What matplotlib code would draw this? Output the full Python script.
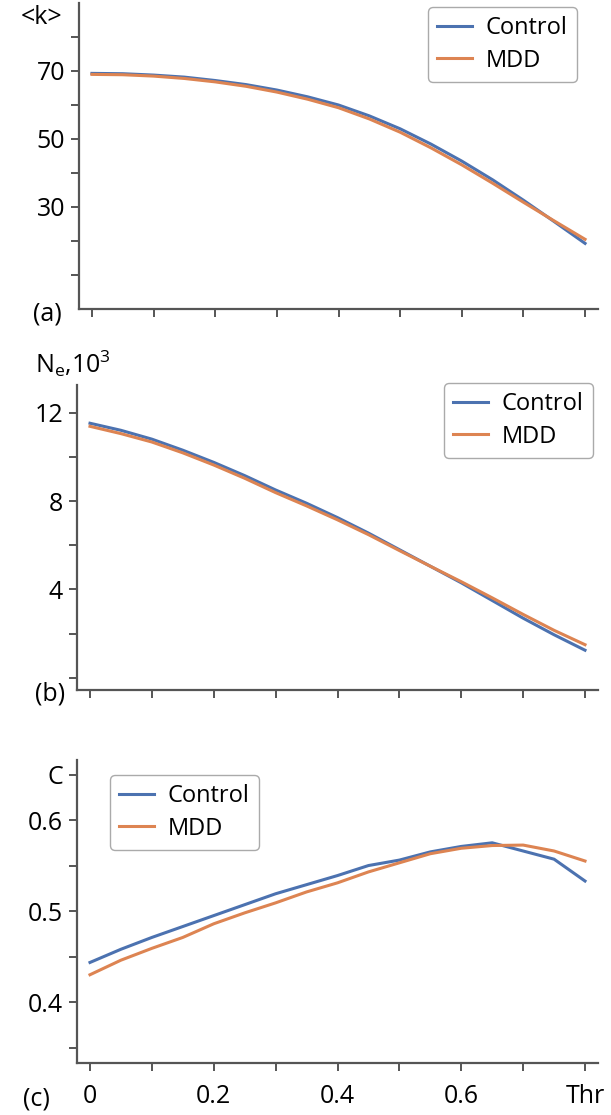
import matplotlib
matplotlib.use("Agg")
import matplotlib.pyplot as plt
import numpy as np

plt.rcParams['font.family'] = ['Open Sans', 'DejaVu Sans']
plt.rcParams['font.size'] = 18

thr = [0, 0.05, 0.1, 0.15, 0.2, 0.25, 0.3, 0.35, 0.4, 0.45, 0.5, 0.55, 0.6, 0.65, 0.7, 0.75, 0.8]

# (a) mean degree <k>
k_control = [69.3, 69.2, 68.8, 68.2, 67.2, 66.0, 64.4, 62.4, 60.0, 56.8, 53.0, 48.5, 43.5, 38.0, 32.0, 25.7, 19.3]
k_mdd = [69.0, 68.9, 68.5, 67.8, 66.8, 65.5, 63.8, 61.7, 59.2, 55.9, 52.0, 47.4, 42.4, 37.0, 31.4, 25.9, 20.5]

# (b) number of edges, x10^3
ne_control = [11.52, 11.2, 10.8, 10.3, 9.75, 9.15, 8.5, 7.9, 7.25, 6.55, 5.8, 5.05, 4.3, 3.5, 2.7, 1.95, 1.25]
ne_mdd = [11.38, 11.05, 10.67, 10.18, 9.63, 9.03, 8.38, 7.78, 7.15, 6.48, 5.76, 5.05, 4.35, 3.62, 2.87, 2.15, 1.5]

# (c) clustering coefficient
c_control = [0.4435, 0.458, 0.471, 0.483, 0.495, 0.507, 0.519, 0.529, 0.539, 0.55, 0.556, 0.565, 0.571, 0.575, 0.566, 0.557, 0.533]
c_mdd = [0.430, 0.446, 0.459, 0.471, 0.486, 0.498, 0.509, 0.521, 0.531, 0.543, 0.553, 0.563, 0.569, 0.572, 0.5725, 0.566, 0.555]

x_ticks = [0, 0.1, 0.2, 0.3, 0.4, 0.5, 0.6, 0.7, 0.8]
x_labels = ['0', '', '0.2', '', '0.4', '', '0.6', '', 'Thr']

blue = '#4c72b0'
orange = '#dd8452'
spine_col = '#555555'

W, H = 611, 1115
fig = plt.figure(figsize=(W / 100, H / 100), dpi=100)

def px(x0, y0, x1, y1):
    # pixel box -> figure fraction [left, bottom, width, height]
    return [x0 / W, 1 - y1 / H, (x1 - x0) / W, (y1 - y0) / H]

ax_a = fig.add_axes(px(79, 3, 598, 309))
ax_b = fig.add_axes(px(77, 385, 598, 690))
ax_c = fig.add_axes(px(77, 760, 598, 1063))

panels = [
    (ax_a, k_control, k_mdd, (0, 90), [10, 20, 30, 40, 50, 60, 70, 80],
     ['', '', '30', '', '50', '', '70', '']),
    (ax_b, ne_control, ne_mdd, (-0.55, 13.25), [0, 2, 4, 6, 8, 10, 12],
     ['', '', '4', '', '8', '', '12']),
    (ax_c, c_control, c_mdd, (0.333, 0.666), [0.35, 0.4, 0.45, 0.5, 0.55, 0.6, 0.65],
     ['', '0.4', '', '0.5', '', '0.6', 'C']),
]

for ax, yc, ym, ylim, yt, yl in panels:
    ax.plot(thr, yc, color=blue, lw=2.2, label='Control')
    ax.plot(thr, ym, color=orange, lw=2.2, label='MDD')
    ax.set_xlim(-0.021, 0.821)
    ax.set_ylim(*ylim)
    ax.set_yticks(yt)
    ax.set_yticklabels(yl)
    ax.set_xticks(x_ticks)
    if ax is ax_c:
        ax.set_xticklabels(x_labels)
    else:
        ax.set_xticklabels([])
    for s in ['top', 'right']:
        ax.spines[s].set_visible(False)
    for s in ['left', 'bottom']:
        ax.spines[s].set_color(spine_col)
        ax.spines[s].set_linewidth(1.6)
    ax.tick_params(color=spine_col, width=1.4, length=6, labelsize=18, pad=4)
    ax.tick_params(axis='x', pad=9)

leg_kw = dict(fontsize=17, handlelength=1.45, handletextpad=0.6, frameon=True, fancybox=True,
              edgecolor='#aaaaaa', framealpha=1, borderpad=0.4, labelspacing=0.35,
              borderaxespad=0, bbox_transform=fig.transFigure)
ax_a.legend(loc='upper right', bbox_to_anchor=(577 / W, 1 - 7 / H), **leg_kw)
ax_b.legend(loc='upper right', bbox_to_anchor=(593 / W, 1 - 383 / H), **leg_kw)
ax_c.legend(loc='upper left', bbox_to_anchor=(110 / W, 1 - 775 / H), **leg_kw)

fig.text(62 / W, 1 - 17 / H, '<k>', ha='right', va='center', fontsize=18)
fig.text(35 / W, 1 - 364 / H, r'N$_\mathregular{e}$,10$^\mathregular{3}$', ha='left', va='center', fontsize=18)
fig.text(62 / W, 1 - 314 / H, '(a)', ha='right', va='center', fontsize=18)
fig.text(65 / W, 1 - 694 / H, '(b)', ha='right', va='center', fontsize=18)
fig.text(50 / W, 1 - 1099 / H, '(c)', ha='right', va='center', fontsize=18)

fig.savefig('out.png', dpi=100)
